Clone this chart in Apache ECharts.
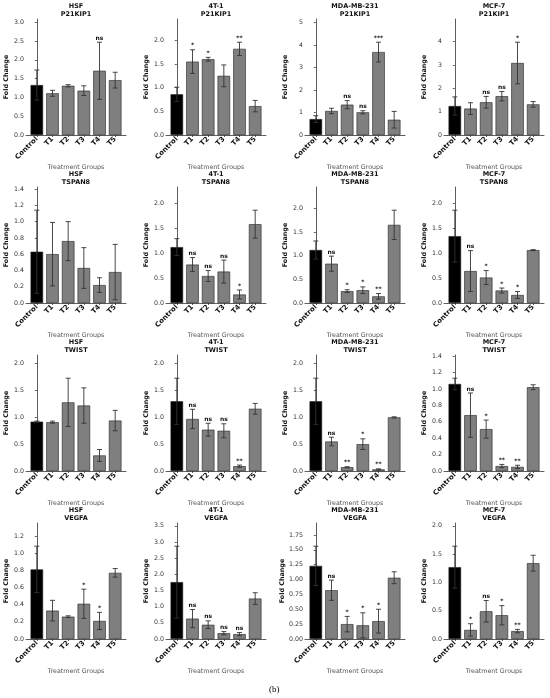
<!DOCTYPE html>
<html>
<head>
<meta charset="utf-8">
<title>Fold Change</title>
<script src="https://cdn.jsdelivr.net/npm/echarts@6/dist/echarts.min.js"></script>
<style>
    html, body { margin: 0; padding: 0; background: #fff; }
    #chart { width: 550px; height: 698px; }
</style>
</head>
<body>
<div id="chart"></div>
<script>
// cell lines (columns) and genes (rows)
var cells = ['HSF', '4T-1', 'MDA-MB-231', 'MCF-7'];
var genes = ['P21KIP1', 'TSPAN8', 'TWIST', 'VEGFA'];
var groups = ['Control', 'T1', 'T2', 'T3', 'T4', 'T5'];

// P21KIP1 : one row per cell line
var p21Mean = [
    [1.33, 1.11, 1.31, 1.18, 1.71, 1.46],
    [0.86, 1.55, 1.60, 1.25, 1.82, 0.61],
    [0.71, 1.07, 1.35, 1.01, 3.69, 0.68],
    [1.24, 1.13, 1.40, 1.66, 3.08, 1.31]
];
var p21Err = [
    [0.40, 0.08, 0.03, 0.13, 0.76, 0.21],
    [0.15, 0.25, 0.04, 0.23, 0.14, 0.12],
    [0.15, 0.12, 0.18, 0.07, 0.44, 0.37],
    [0.39, 0.25, 0.25, 0.20, 0.89, 0.12]
];
var p21Sig = [
    ['', '', '', '', 'ns', ''],
    ['', '*', '*', '', '**', ''],
    ['', '', 'ns', 'ns', '***', ''],
    ['', '', 'ns', 'ns', '*', '']
];
var p21Ticks = [
    ['0.0', '0.5', '1.0', '1.5', '2.0', '2.5', '3.0'],
    ['0.0', '0.5', '1.0', '1.5', '2.0'],
    ['0', '1', '2', '3', '4', '5'],
    ['0', '1', '2', '3', '4']
];

// TSPAN8
var tspMean = [
    [0.63, 0.60, 0.76, 0.43, 0.22, 0.38],
    [1.12, 0.77, 0.54, 0.63, 0.17, 1.58],
    [1.12, 0.83, 0.25, 0.27, 0.14, 1.65],
    [1.34, 0.64, 0.51, 0.25, 0.16, 1.06]
];
var tspErr = [
    [0.51, 0.39, 0.24, 0.25, 0.09, 0.34],
    [0.17, 0.14, 0.11, 0.23, 0.09, 0.28],
    [0.19, 0.16, 0.03, 0.07, 0.06, 0.31],
    [0.52, 0.41, 0.14, 0.05, 0.07, 0.01]
];
var tspSig = [
    ['', '', '', '', '', ''],
    ['', 'ns', 'ns', 'ns', '*', ''],
    ['', 'ns', '*', '*', '**', ''],
    ['', 'ns', '*', '*', '*', '']
];
var tspTicks = [
    ['0.0', '0.2', '0.4', '0.6', '0.8', '1.0', '1.2', '1.4'],
    ['0.0', '0.5', '1.0', '1.5', '2.0'],
    ['0.0', '0.5', '1.0', '1.5', '2.0'],
    ['0.0', '0.5', '1.0', '1.5', '2.0']
];

// TWIST
var twiMean = [
    [0.92, 0.91, 1.28, 1.22, 0.29, 0.94],
    [1.30, 0.97, 0.77, 0.75, 0.09, 1.16],
    [1.30, 0.55, 0.07, 0.50, 0.03, 1.00],
    [1.06, 0.68, 0.51, 0.06, 0.05, 1.02]
];
var twiErr = [
    [0.01, 0.02, 0.45, 0.33, 0.11, 0.19],
    [0.43, 0.18, 0.12, 0.13, 0.02, 0.10],
    [0.43, 0.08, 0.01, 0.10, 0.01, 0.01],
    [0.07, 0.27, 0.11, 0.02, 0.02, 0.03]
];
var twiSig = [
    ['', '', '', '', '', ''],
    ['', 'ns', 'ns', 'ns', '**', ''],
    ['', 'ns', '**', '*', '**', ''],
    ['', 'ns', '*', '**', '**', '']
];
var twiTicks = [
    ['0.0', '0.5', '1.0', '1.5', '2.0'],
    ['0.0', '0.5', '1.0', '1.5', '2.0'],
    ['0.0', '0.5', '1.0', '1.5', '2.0'],
    ['0.0', '0.2', '0.4', '0.6', '0.8', '1.0', '1.2', '1.4']
];

// VEGFA
var vegMean = [
    [0.81, 0.33, 0.26, 0.41, 0.21, 0.77],
    [1.76, 0.63, 0.44, 0.18, 0.15, 1.25],
    [1.23, 0.82, 0.25, 0.23, 0.30, 1.03],
    [1.27, 0.16, 0.49, 0.42, 0.14, 1.34]
];
var vegErr = [
    [0.27, 0.12, 0.01, 0.17, 0.10, 0.05],
    [1.11, 0.28, 0.12, 0.05, 0.05, 0.18],
    [0.33, 0.17, 0.13, 0.21, 0.20, 0.10],
    [0.37, 0.11, 0.19, 0.17, 0.03, 0.14]
];
var vegSig = [
    ['', '', '', '*', '*', ''],
    ['', 'ns', 'ns', 'ns', 'ns', ''],
    ['', 'ns', '*', '*', '*', ''],
    ['', '*', 'ns', '*', '**', '']
];
var vegTicks = [
    ['0.0', '0.2', '0.4', '0.6', '0.8', '1.0', '1.2'],
    ['0.0', '0.5', '1.0', '1.5', '2.0', '2.5', '3.0', '3.5'],
    ['0.00', '0.25', '0.50', '0.75', '1.00', '1.25', '1.50', '1.75'],
    ['0.0', '0.5', '1.0', '1.5', '2.0']
];

var allMean = [p21Mean, tspMean, twiMean, vegMean];
var allErr = [p21Err, tspErr, twiErr, vegErr];
var allSig = [p21Sig, tspSig, twiSig, vegSig];
var allTicks = [p21Ticks, tspTicks, twiTicks, vegTicks];

// layout
var colLeft = [26, 166, 305, 444];
var rowBottom = [135, 303, 471, 639];
var plotW = 100;
var plotH = 116;
var font = 'DejaVu Sans';
var axisColor = '#333';

var grids = [], xAxes = [], yAxes = [], titles = [], series = [];
var xIdx = [0, 1, 2, 3, 4, 5];

function makeErrRender(sig) {
    return function(params, api) {
        var x = api.value(0);
        var m = api.value(1);
        var e = api.value(2);
        var top = api.coord([x, m + e]);
        var bot = api.coord([x, m - e]);
        var cap = 2.5;
        var lineStyle = { stroke: '#333', lineWidth: 0.9 };
        var children = [
            { type: 'line', shape: { x1: top[0], y1: top[1], x2: bot[0], y2: bot[1] }, style: lineStyle },
            { type: 'line', shape: { x1: top[0] - cap, y1: top[1], x2: top[0] + cap, y2: top[1] }, style: lineStyle },
            { type: 'line', shape: { x1: bot[0] - cap, y1: bot[1], x2: bot[0] + cap, y2: bot[1] }, style: lineStyle }
        ];
        var s = sig[params.dataIndex];
        if (s) {
            children.push({
                type: 'text',
                style: {
                    text: s, x: top[0], y: top[1] - 1,
                    align: 'center', verticalAlign: 'bottom',
                    textAlign: 'center', textVerticalAlign: 'bottom',
                    fontSize: 6, fontWeight: 'bold', fontFamily: font, fill: '#111'
                }
            });
        }
        return { type: 'group', children: children };
    };
}

for (var r = 0; r < 4; r++) {
    for (var c = 0; c < 4; c++) {
        var k = r * 4 + c;
        var mean = allMean[r][c];
        var err = allErr[r][c];
        var sig = allSig[r][c];
        var ticks = allTicks[r][c];
        var tickVals = ticks.map(function(t) { return parseFloat(t); });
        var maxTop = 0;
        for (var i = 0; i < mean.length; i++) {
            maxTop = Math.max(maxTop, mean[i] + err[i]);
        }

        grids.push({
            left: colLeft[c],
            top: rowBottom[r] - plotH,
            width: plotW,
            height: plotH
        });

        titles.push({
            text: cells[c] + '\n' + genes[r],
            left: colLeft[c] + plotW / 2,
            top: rowBottom[r] - plotH - 17,
            textAlign: 'center',
            padding: 0,
            textStyle: {
                fontFamily: font, fontSize: 6.5, fontWeight: 'bold',
                color: '#111', lineHeight: 8
            }
        });

        xAxes.push({
            gridIndex: k,
            type: 'value',
            min: -0.69,
            max: 5.69,
            name: 'Treatment Groups',
            nameLocation: 'middle',
            nameGap: 28,
            nameTextStyle: { fontFamily: font, fontSize: 6.3, color: '#555' },
            axisLine: { show: true, lineStyle: { color: axisColor, width: 0.8 } },
            axisTick: { show: true, length: 2, customValues: xIdx, lineStyle: { color: axisColor, width: 0.8 } },
            axisLabel: {
                customValues: xIdx,
                rotate: 45,
                margin: 3,
                fontFamily: font,
                fontSize: 7,
                fontWeight: 'bold',
                color: '#111',
                formatter: function(v) { return groups[Math.round(v)]; }
            },
            splitLine: { show: false }
        });

        yAxes.push({
            gridIndex: k,
            type: 'value',
            min: 0,
            max: maxTop * 1.25,
            name: 'Fold Change',
            nameLocation: 'middle',
            nameGap: 17,
            nameRotate: 90,
            nameTextStyle: { fontFamily: font, fontSize: 6.4, fontWeight: 'bold', color: '#111' },
            axisLine: { show: true, lineStyle: { color: axisColor, width: 0.8 } },
            axisTick: { show: true, length: 2, customValues: tickVals, lineStyle: { color: axisColor, width: 0.8 } },
            axisLabel: {
                customValues: tickVals,
                margin: 2,
                fontFamily: font,
                fontSize: 6.3,
                color: '#333',
                formatter: (function(ticks, vals) {
                    return function(v) {
                        for (var j = 0; j < vals.length; j++) {
                            if (Math.abs(vals[j] - v) < 1e-6) return ticks[j];
                        }
                        return '';
                    };
                })(ticks, tickVals)
            },
            splitLine: { show: false }
        });

        series.push({
            type: 'bar',
            xAxisIndex: k,
            yAxisIndex: k,
            barWidth: '80%',
            data: mean.map(function(m, i) {
                return { value: [i, m], itemStyle: { color: i === 0 ? '#000' : '#7f7f7f' } };
            }),
            itemStyle: { borderColor: '#222', borderWidth: 0.6 },
            silent: true
        });

        series.push({
            type: 'custom',
            xAxisIndex: k,
            yAxisIndex: k,
            data: mean.map(function(m, i) { return [i, m, err[i]]; }),
            encode: { x: 0, y: 1 },
            renderItem: makeErrRender(sig),
            clip: false,
            z: 5,
            silent: true
        });
    }
}

var chart = echarts.init(document.getElementById('chart'), null, { renderer: 'canvas' });
chart.setOption({
    backgroundColor: '#fff',
    animation: false,
    title: titles,
    grid: grids,
    xAxis: xAxes,
    yAxis: yAxes,
    series: series,
    graphic: [{
        type: 'text',
        left: 269,
        top: 685,
        style: { text: '(b)', fontFamily: 'Liberation Serif', fontSize: 9, fill: '#000' }
    }]
});
</script>
</body>
</html>
